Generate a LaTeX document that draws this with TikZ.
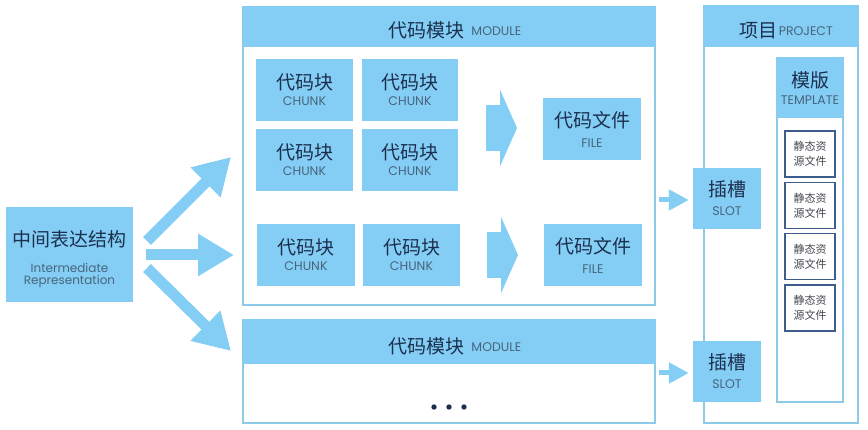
\documentclass[tikz,border=0pt]{standalone}
\usepackage{fontspec}
\newfontfamily\cjkf{Noto Sans CJK SC}
\newfontfamily\enf{Poppins}
\usetikzlibrary{arrows.meta,calc}
\definecolor{boxblue}{RGB}{132,206,246}
\definecolor{frameblue}{RGB}{140,202,232}
\definecolor{titletext}{RGB}{28,48,78}
\definecolor{subtext}{RGB}{72,100,122}
\definecolor{staticedge}{RGB}{62,92,140}
\definecolor{statictext}{RGB}{70,70,80}
\newcommand\myzh[1]{{\cjkf\fontsize{19}{22}\selectfont\color{titletext}#1}}
\newcommand\myen[1]{{\enf\fontsize{12.5}{14}\selectfont\color{subtext}#1}}
\newcommand\myenb[1]{{\enf\fontsize{12}{13}\selectfont\color{subtext}#1}}
\newcommand\mystrut[1]{\rule{0pt}{#1}}
\tikzset{
  blk/.style={fill=boxblue, draw=none, inner sep=0pt, align=center, minimum width=#1},
  framebox/.style={draw=frameblue, line width=2pt, fill=white, inner sep=0pt},
  hdr/.style={fill=boxblue, draw=none, inner sep=0pt, anchor=north, align=center},
  staticbox/.style={draw=staticedge, line width=1.8pt, fill=white, inner sep=0pt,
    minimum width=50pt, minimum height=46pt, align=center,
    font=\cjkf\fontsize{11}{15}\selectfont, text=statictext},
  fatarrow/.style={draw=boxblue, line width=11pt, -{Triangle[length=36pt,width=40pt]}},
  chevarrow/.style={draw=boxblue, line width=46pt, -{Triangle[length=17pt,width=76pt]}},
  smallarrow/.style={draw=boxblue, line width=5pt, -{Triangle[length=20pt,width=20pt]}},
}
\begin{document}
\begin{tikzpicture}[x=1pt,y=-1pt]
\useasboundingbox[fill=white] (0,0) rectangle (868,430);

% intermediate representation
\node[blk=127pt, minimum height=95pt] (ir) at (69.5,254.5)
  {\mystrut{25pt}\myzh{中间表达结构}\\[14pt]\myenb{Intermediate}\\\myenb{Representation}};

% module 1
\node[framebox, minimum width=412pt, minimum height=298pt] (m1) at (449,156) {};
\node[hdr, minimum width=412pt, minimum height=41pt] (m1h) at (m1.north) {\hspace*{12pt}\mystrut{24pt}\myzh{代码模块}\ \ \raisebox{2pt}{\myen{MODULE}}};
\node[blk=97pt, minimum height=62pt] (c11) at (304.5,90) {\myzh{代码块}\\[4pt]\myen{CHUNK}};
\node[blk=96pt, minimum height=62pt] (c12) at (410,90) {\myzh{代码块}\\[4pt]\myen{CHUNK}};
\node[blk=97pt, minimum height=62pt] (c21) at (304.5,160) {\myzh{代码块}\\[4pt]\myen{CHUNK}};
\node[blk=96pt, minimum height=62pt] (c22) at (410,160) {\myzh{代码块}\\[4pt]\myen{CHUNK}};
\node[blk=98pt, minimum height=62pt] (c31) at (306,255) {\myzh{代码块}\\[4pt]\myen{CHUNK}};
\node[blk=97pt, minimum height=62pt] (c32) at (411.5,255) {\myzh{代码块}\\[4pt]\myen{CHUNK}};
\node[blk=98pt, minimum height=62pt] (f1) at (592,129) {\myzh{代码文件}\\[8pt]\myen{FILE}};
\node[blk=98pt, minimum height=62pt] (f2) at (593,255) {\myzh{代码文件}\\[8pt]\myen{FILE}};
\coordinate (a1s) at (486,128);
\coordinate (a1e) at (517,128);
\coordinate (a2s) at (487,255);
\coordinate (a2e) at (518,255);
\draw[chevarrow] (a1s) -- (a1e);
\draw[chevarrow] (a2s) -- (a2e);

% module 2
\node[framebox, minimum width=412pt, minimum height=103pt] (m2) at (449,371.5) {};
\node[hdr, minimum width=412pt, minimum height=45pt] (m2h) at (m2.north) {\hspace*{12pt}\mystrut{25pt}\myzh{代码模块}\ \ \raisebox{2pt}{\myen{MODULE}}};
\coordinate (dots) at (449,407);
\foreach \dx in {-15,0,15} \fill[titletext] ($(dots)+(\dx,0)$) circle (2.7pt);

% arrows from IR
\coordinate (t1s) at (147,241);
\coordinate (t1e) at (231,157);
\coordinate (t2s) at (146,255);
\coordinate (t2e) at (234,255);
\coordinate (t3s) at (147,268);
\coordinate (t3e) at (231,351);
\draw[fatarrow] (t1s) -- (t1e);
\draw[fatarrow] (t2s) -- (t2e);
\draw[fatarrow] (t3s) -- (t3e);

% project
\node[framebox, minimum width=154pt, minimum height=417pt] (p) at (781,214.5) {};
\node[hdr, minimum width=154pt, minimum height=42pt] (ph) at (p.north) {\mystrut{24pt}\hspace*{10pt}\myzh{项目}\,\raisebox{2pt}{\myen{PROJECT}}};
\node[draw=frameblue, line width=1.5pt, fill=white, inner sep=0pt, minimum width=66pt, minimum height=344pt] (tp) at (810,230) {};
\node[hdr, minimum width=66pt, minimum height=61pt] (tph) at (tp.north) {\myzh{模版}\\[5pt]\myen{TEMPLATE}};
\node[staticbox] (s1) at (810,154) {静态资\\源文件};
\node[staticbox] (s2) at (810,205.5) {静态资\\源文件};
\node[staticbox] (s3) at (810,256.5) {静态资\\源文件};
\node[staticbox] (s4) at (810,308) {静态资\\源文件};
\node[blk=68pt, minimum height=61pt] (slot1) at (727,198.5) {\myzh{插槽}\\[7pt]\myen{SLOT}};
\node[blk=68pt, minimum height=61pt] (slot2) at (727,371.5) {\myzh{插槽}\\[7pt]\myen{SLOT}};
\draw[smallarrow] ($(m1.east |- slot1.west)+(3,1.5)$) -- ($(slot1.west)+(-4,1.5)$);
\draw[smallarrow] ($(m2.east |- slot2.west)+(3,1.5)$) -- ($(slot2.west)+(-4,1.5)$);
\end{tikzpicture}
\end{document}
